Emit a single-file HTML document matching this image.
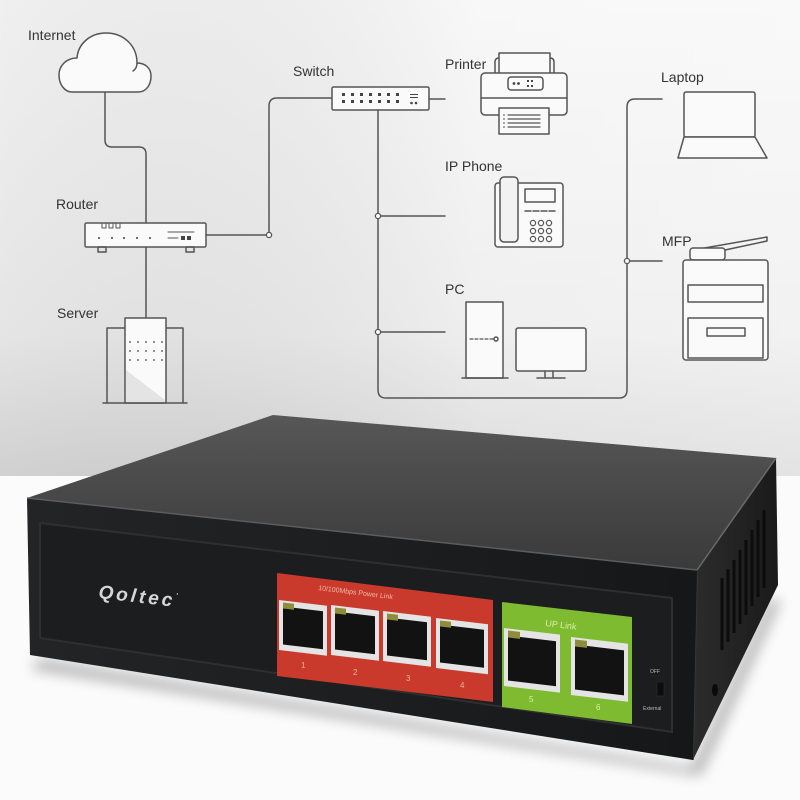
<!DOCTYPE html>
<html><head><meta charset="utf-8"><style>
html,body{margin:0;padding:0;background:#fff;}
svg{display:block;}
text{font-family:"Liberation Sans",Arial,sans-serif;}
</style></head><body>
<svg width="800" height="800" viewBox="0 0 800 800" xmlns="http://www.w3.org/2000/svg">
<defs>
<linearGradient id="bg" x1="0" y1="0" x2="0" y2="1">
<stop offset="0" stop-color="#f7f7f7"/><stop offset="0.7" stop-color="#ececec"/><stop offset="1" stop-color="#d7d7d7"/>
</linearGradient>
<linearGradient id="bgh" x1="0" y1="0" x2="1" y2="0">
<stop offset="0" stop-color="#000" stop-opacity="0.03"/><stop offset="0.6" stop-color="#fff" stop-opacity="0.15"/><stop offset="1" stop-color="#fff" stop-opacity="0.3"/>
</linearGradient>
<linearGradient id="topf" x1="0" y1="0" x2="0" y2="1">
<stop offset="0" stop-color="#575757"/><stop offset="1" stop-color="#3a3a3a"/>
</linearGradient>
<linearGradient id="front" x1="0" y1="0" x2="1" y2="0">
<stop offset="0" stop-color="#232426"/><stop offset="0.5" stop-color="#1d1e20"/><stop offset="1" stop-color="#161718"/>
</linearGradient>
<linearGradient id="side" x1="0" y1="0" x2="1" y2="0">
<stop offset="0" stop-color="#2c2c2c"/><stop offset="1" stop-color="#1a1a1a"/>
</linearGradient>
<filter id="blur" x="-20%" y="-50%" width="140%" height="200%"><feGaussianBlur stdDeviation="7"/></filter>
</defs>

<!-- background -->
<rect x="0" y="0" width="800" height="476" fill="url(#bg)"/>
<rect x="0" y="0" width="800" height="476" fill="url(#bgh)"/>
<rect x="0" y="476" width="800" height="324" fill="#fbfbfb"/>

<!-- ============ DIAGRAM ============ -->
<g fill="none" stroke="#555" stroke-width="1.5" stroke-linejoin="round" stroke-linecap="round">
<!-- cloud -->
<path d="M72,92 L138,92 C147,92 151,84 151,76 C151,68 145,63 137,63 C137,45 123,33 106,33 C90,33 78,44 77,58 C66,58 59,66 59,75 C59,85 65,92 72,92 Z" fill="#fafafa"/>
<path d="M137,63 C137,66 136,69 133,71"/>
<!-- internet to router -->
<path d="M105,92 V140 Q105,147 112,147 H139 Q146,147 146,154 V223"/>
<!-- router -->
<rect x="85" y="223" width="121" height="24" rx="1.5" fill="#fafafa"/>
<rect x="98" y="247" width="8" height="5"/>
<rect x="186" y="247" width="8" height="5"/>
<path d="M102,224 v4 h4 v-4 M109,224 v4 h4 v-4 M116,224 v4 h4 v-4" stroke-width="1"/>
<path d="M168,232 H194 M168,238 H178" stroke-width="1"/>
<!-- router to server -->
<path d="M146,247 V318"/>
<!-- router to switch -->
<path d="M206,235 H269 V106 Q269,98 277,98 H332"/>
<!-- server -->
<path d="M107,403 V328 H183 V403"/>
<rect x="125" y="318" width="41" height="85" fill="#fafafa"/>
<path d="M103,403 H187"/>
<!-- switch icon -->
<rect x="332" y="87" width="97" height="23" rx="1.5" fill="#fafafa"/>
<!-- switch connections -->
<path d="M429,99 H445"/>
<path d="M378,110 V390 Q378,398 386,398 H619 Q627,398 627,390 V107 Q627,99 635,99 H662"/>
<path d="M378,216 H445 M378,332 H445 M627,261 H662"/>
<!-- printer -->
<path d="M495,73 V62 Q495,58 499,58 M554,73 V62 Q554,58 550,58"/>
<rect x="499" y="53" width="51" height="22" fill="#fafafa"/>
<rect x="481" y="73" width="86" height="42" rx="4" fill="#fafafa"/>
<rect x="508" y="77" width="35" height="13" rx="3"/>
<path d="M481,98 H567"/>
<rect x="499" y="108" width="50" height="26" fill="#fafafa"/>
<path d="M508,115 H540 M508,119 H540 M508,123 H540 M508,127 H540" stroke-width="1.2"/>
<!-- ip phone -->
<rect x="495" y="183" width="68" height="64" rx="3" fill="#fafafa"/>
<rect x="500" y="177" width="18" height="65" rx="4" fill="#f2f2f2"/>
<rect x="525" y="189" width="30" height="13" fill="#fafafa"/>
<path d="M525,211 H531 M533,211 H539 M541,211 H547 M549,211 H555"/>
<g stroke-width="1.2">
<circle cx="533" cy="223" r="2.6"/><circle cx="541" cy="223" r="2.6"/><circle cx="549" cy="223" r="2.6"/>
<circle cx="533" cy="231" r="2.6"/><circle cx="541" cy="231" r="2.6"/><circle cx="549" cy="231" r="2.6"/>
<circle cx="533" cy="239" r="2.6"/><circle cx="541" cy="239" r="2.6"/><circle cx="549" cy="239" r="2.6"/>
</g>
<!-- PC -->
<rect x="466" y="302" width="37" height="76" fill="#fafafa"/>
<path d="M462,378 H508"/>
<path d="M470,339 H493" stroke-dasharray="3,2" stroke-width="1.2"/>
<circle cx="496" cy="339" r="2"/>
<rect x="516" y="328" width="70" height="43" rx="2" fill="#fafafa"/>
<path d="M545,371 V378 M553,371 V378 M537,378 H565"/>
<!-- laptop -->
<rect x="684" y="92" width="71" height="45" rx="2" fill="#fafafa"/>
<path d="M684,137 H755 L767,158 H678 Z" fill="#fafafa"/>
<!-- MFP -->
<path d="M693,250 L767,237 L767,241 L725,250"/>
<rect x="690" y="248" width="35" height="12" rx="3" fill="#fafafa"/>
<rect x="683" y="260" width="85" height="100" rx="3" fill="#fafafa"/>
<rect x="688" y="285" width="75" height="17"/>
<rect x="688" y="318" width="75" height="40"/>
<rect x="707" y="328" width="38" height="8"/>
</g>
<!-- small filled details -->
<g fill="#444">
<circle cx="99" cy="238" r="1"/><circle cx="112" cy="238" r="1"/><circle cx="124" cy="238" r="1"/><circle cx="137" cy="238" r="1"/><circle cx="150" cy="238" r="1"/>
<rect x="181" y="236" width="4" height="4"/><rect x="187" y="236" width="4" height="4"/>
<!-- switch dots -->
<g id="sd">
<rect x="342" y="93" width="3" height="3"/><rect x="351" y="93" width="3" height="3"/><rect x="360" y="93" width="3" height="3"/><rect x="369" y="93" width="3" height="3"/><rect x="378" y="93" width="3" height="3"/><rect x="387" y="93" width="3" height="3"/><rect x="396" y="93" width="3" height="3"/>
<rect x="342" y="100" width="3" height="3"/><rect x="351" y="100" width="3" height="3"/><rect x="360" y="100" width="3" height="3"/><rect x="369" y="100" width="3" height="3"/><rect x="378" y="100" width="3" height="3"/><rect x="387" y="100" width="3" height="3"/><rect x="396" y="100" width="3" height="3"/>
</g>
<rect x="410" y="94" width="8" height="1"/><rect x="410" y="97" width="8" height="1"/>
<circle cx="411.5" cy="103" r="1.3"/><circle cx="416" cy="103" r="1.3"/>
<!-- printer display -->
<circle cx="514" cy="83.5" r="1.4"/><circle cx="518.5" cy="83.5" r="1.4"/>
<rect x="527" y="80" width="2" height="2"/><rect x="531" y="80" width="2" height="2"/><rect x="527" y="85" width="2" height="2"/><rect x="531" y="85" width="2" height="2"/>
<circle cx="504" cy="115" r="0.8"/><circle cx="504" cy="119" r="0.8"/><circle cx="504" cy="123" r="0.8"/><circle cx="504" cy="127" r="0.8"/>
<!-- server dots -->
<circle cx="130" cy="342" r="0.9"/><circle cx="138" cy="342" r="0.9"/><circle cx="146" cy="342" r="0.9"/><circle cx="154" cy="342" r="0.9"/><circle cx="162" cy="342" r="0.9"/>
<circle cx="130" cy="351" r="0.9"/><circle cx="138" cy="351" r="0.9"/><circle cx="146" cy="351" r="0.9"/><circle cx="154" cy="351" r="0.9"/><circle cx="162" cy="351" r="0.9"/>
<circle cx="130" cy="360" r="0.9"/><circle cx="138" cy="360" r="0.9"/><circle cx="146" cy="360" r="0.9"/><circle cx="154" cy="360" r="0.9"/><circle cx="162" cy="360" r="0.9"/>
</g>
<!-- server shading -->
<path d="M126,370 L165,400 L165,402 L126,402 Z" fill="#e4e4e4"/>
<!-- junction circles -->
<g fill="#fafafa" stroke="#555" stroke-width="1.3">
<circle cx="269" cy="235" r="2.6"/>
<circle cx="378" cy="216" r="2.6"/>
<circle cx="378" cy="332" r="2.6"/>
<circle cx="627" cy="261" r="2.6"/>
</g>
<!-- labels -->
<g font-size="14" fill="#333">
<text x="28" y="40">Internet</text>
<text x="293" y="76">Switch</text>
<text x="56" y="209">Router</text>
<text x="57" y="318">Server</text>
<text x="445" y="69">Printer</text>
<text x="445" y="171">IP Phone</text>
<text x="445" y="294">PC</text>
<text x="661" y="82">Laptop</text>
<text x="662" y="246">MFP</text>
</g>

<!-- ============ DEVICE PHOTO ============ -->
<!-- shadow -->
<polygon points="40,660 693,768 770,600 780,600 700,775 30,668" fill="#000" opacity="0.35" filter="url(#blur)"/>
<!-- top face -->
<polygon points="27,498 273,415 776,458 697,570" fill="url(#topf)"/>
<!-- right side -->
<polygon points="697,570 776,458 778,585 693,760" fill="url(#side)"/>
<line x1="697" y1="570" x2="776" y2="458" stroke="#6a6a6a" stroke-width="1.5"/>
<line x1="697" y1="570" x2="693" y2="760" stroke="#3a3a3a" stroke-width="1.5"/>
<!-- vents -->
<g stroke="#0c0c0c" stroke-width="3">
<line x1="722" y1="578" x2="722" y2="650"/>
<line x1="728" y1="569" x2="728" y2="642"/>
<line x1="734" y1="560" x2="734" y2="633"/>
<line x1="740" y1="550" x2="740" y2="624"/>
<line x1="746" y1="540" x2="746" y2="615"/>
<line x1="752" y1="530" x2="752" y2="606"/>
<line x1="758" y1="520" x2="758" y2="597"/>
<line x1="764" y1="510" x2="764" y2="588"/>
</g>
<ellipse cx="715" cy="690" rx="3" ry="6" fill="#0a0a0a"/>
<!-- front face -->
<polygon points="27,498 697,570 693,760 30,655" fill="url(#front)"/>
<line x1="27" y1="498" x2="697" y2="570" stroke="#5c5c5c" stroke-width="1.5"/>
<!-- inner panel -->
<polygon points="40,523 672,598 672,732 40,638" fill="#1c1d1f" stroke="#2e2f31" stroke-width="2"/>
<!-- logo -->
<text x="98" y="598" font-size="19" font-weight="bold" fill="#d6d6d6" letter-spacing="3" transform="rotate(6.5 98 598)" font-style="italic">Qoltec<tspan font-size="7" dy="-9">'</tspan></text>
<!-- red panel -->
<polygon points="277,573 493,600 493,702 277,676" fill="#c93a2c"/>
<text x="318" y="590" font-size="7" fill="#f3b8a8" transform="rotate(7 318 590)">10/100Mbps Power Link</text>
<g>
<g transform="translate(279,600) skewY(6.8)">
<rect width="48" height="50" fill="#e4e4e4"/><rect x="4" y="6" width="40" height="38" fill="#121212"/><rect x="4" y="2" width="11" height="6" fill="#8f8d3c"/>
</g>
<g transform="translate(331,605) skewY(6.8)">
<rect width="48" height="50" fill="#e4e4e4"/><rect x="4" y="6" width="40" height="38" fill="#121212"/><rect x="4" y="2" width="11" height="6" fill="#8f8d3c"/>
</g>
<g transform="translate(383,611) skewY(6.8)">
<rect width="48" height="50" fill="#e4e4e4"/><rect x="4" y="6" width="40" height="38" fill="#121212"/><rect x="4" y="2" width="11" height="6" fill="#8f8d3c"/>
</g>
<g transform="translate(436,618) skewY(6.8)">
<rect width="52" height="50" fill="#e4e4e4"/><rect x="4" y="6" width="44" height="38" fill="#121212"/><rect x="4" y="2" width="11" height="6" fill="#8f8d3c"/>
</g>
</g>
<g font-size="8" fill="#f0b0a0">
<text x="301" y="668">1</text><text x="353" y="675">2</text><text x="406" y="681">3</text><text x="460" y="688">4</text>
</g>
<!-- green panel -->
<polygon points="502,602 632,617 632,724 502,707" fill="#7fbb30"/>
<text x="545" y="626" font-size="9" fill="#d6efaa" transform="rotate(7 545 626)">UP Link</text>
<g transform="translate(504,628) skewY(6.8)">
<rect width="56" height="58" fill="#e4e4e4"/><rect x="4" y="7" width="48" height="45" fill="#121212"/><rect x="4" y="2" width="12" height="7" fill="#8f8d3c"/>
</g>
<g transform="translate(571,637) skewY(6.8)">
<rect width="57" height="58" fill="#e4e4e4"/><rect x="4" y="7" width="49" height="45" fill="#121212"/><rect x="4" y="2" width="12" height="7" fill="#8f8d3c"/>
</g>
<g font-size="8" fill="#d6efaa">
<text x="529" y="702">5</text><text x="596" y="710">6</text>
</g>
<!-- toggle -->
<text x="650" y="673" font-size="5" fill="#bbb">OFF</text>
<rect x="657" y="682" width="7" height="14" fill="#0d0d0d" stroke="#333" stroke-width="0.5"/>
<text x="643" y="710" font-size="5" fill="#bbb">External</text>
</svg>
</body></html>
